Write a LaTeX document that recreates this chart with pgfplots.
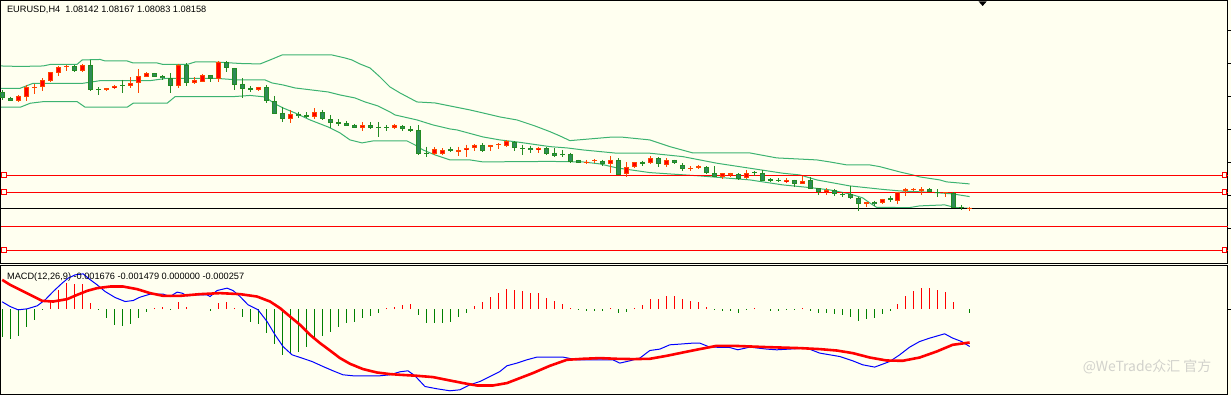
\documentclass[border=0pt]{standalone}
\usepackage{pgfplots}
\pgfplotsset{compat=1.18}
\usepackage{pgfplotstable}
\usepackage{fontspec}
\setmainfont{Liberation Sans}
\newfontfamily\cjk{Noto Sans CJK SC}
\definecolor{bg}{HTML}{FFFFF0}
\definecolor{band}{HTML}{3CB371}
\definecolor{upedge}{HTML}{FF4500}
\definecolor{upfill}{HTML}{FF0000}
\definecolor{dnedge}{HTML}{228B22}
\definecolor{dnfill}{HTML}{2E8B57}
\definecolor{hgreen}{HTML}{008000}
\definecolor{wm}{HTML}{D2D2CC}

% bearish candles (green): i = bar index, o h l c read in screen pixels
\pgfplotstableread{
i o h l c
0 91.7 90.0 100.0 98.3
1 98.3 96.7 101.0 100.7
9 66.0 65.5 71.7 70.7
11 65.0 60.0 90.7 89.7
12 89.0 87.3 95.0 90.3
15 85.7 80.0 92.7 86.3
19 73.3 73.0 77.0 76.7
20 76.0 75.0 80.0 78.3
21 78.3 73.3 93.3 85.7
23 65.0 63.3 86.0 83.3
26 75.0 75.0 81.7 79.0
28 61.7 61.0 71.7 68.3
29 68.3 68.0 90.0 85.0
30 84.0 78.3 97.7 89.3
31 88.3 86.0 92.3 89.7
33 87.0 85.0 103.3 101.0
34 101.0 96.0 114.0 113.7
35 112.7 106.7 121.7 119.3
37 113.7 111.7 117.7 116.0
38 115.0 112.3 118.3 116.7
40 112.3 110.0 120.0 119.3
41 119.3 115.0 127.7 122.7
42 122.3 119.3 126.0 123.7
43 123.3 121.0 126.3 125.7
44 124.7 124.0 128.0 127.7
46 125.0 122.3 129.3 127.7
47 126.7 122.3 136.7 127.7
48 127.7 125.0 131.0 128.3
50 126.0 125.5 130.7 129.0
51 129.0 126.0 131.7 130.7
52 130.0 125.0 155.0 154.3
53 153.3 146.7 157.3 154.0
56 149.3 146.7 152.0 151.3
60 144.7 143.3 152.0 150.7
64 141.7 141.3 150.7 148.3
65 148.3 144.7 155.0 149.0
66 147.7 145.7 152.7 150.0
68 147.7 147.3 155.0 154.0
69 152.7 147.7 156.7 155.7
70 154.0 150.0 157.3 155.0
71 154.3 152.7 163.3 161.7
72 160.0 159.7 163.3 162.7
75 160.7 159.7 166.3 164.0
77 160.0 158.3 175.5 175.0
80 161.7 160.7 165.7 163.7
82 158.3 157.3 167.3 164.3
84 160.0 159.7 163.7 163.3
85 165.0 163.3 171.0 169.0
88 166.7 166.3 174.0 173.3
89 173.3 166.0 177.0 176.7
92 174.0 173.3 180.0 179.3
94 171.7 171.0 176.0 173.3
95 172.7 170.0 181.0 180.7
96 179.3 178.3 182.3 181.0
97 180.0 178.3 182.3 181.0
99 180.0 179.7 187.3 184.0
101 180.0 177.3 189.3 189.0
102 188.3 188.0 195.0 191.7
104 190.0 189.0 195.7 194.0
105 194.0 192.3 196.7 195.0
106 194.3 186.0 199.3 198.3
107 198.3 197.3 210.7 204.3
109 201.7 200.7 205.7 204.0
111 198.3 195.7 201.7 200.0
116 189.3 188.3 192.3 191.7
117 192.3 189.3 196.7 193.3
119 192.7 192.3 208.0 207.7
120 206.7 205.0 210.0 207.7
}\candown

% bullish candles (red)
\pgfplotstableread{
i o h l c
2 100.7 95.0 101.7 96.0
3 96.7 85.0 100.7 86.7
4 87.7 84.0 94.3 86.7
5 87.3 78.3 90.7 80.0
6 80.7 72.0 81.7 72.3
7 72.7 66.0 75.7 67.3
8 67.3 64.7 70.7 65.7
10 70.7 64.0 71.7 65.0
13 90.3 88.0 91.0 88.3
14 88.3 85.0 89.3 86.0
16 86.0 77.3 88.3 83.3
17 83.3 69.0 92.7 76.0
18 76.7 72.3 77.0 73.3
22 85.7 64.0 88.3 65.0
24 83.3 77.3 84.0 80.0
25 81.7 74.0 82.3 75.0
27 79.0 61.0 81.7 61.7
32 90.3 86.7 90.7 87.0
36 119.0 110.0 122.7 114.3
39 116.7 108.3 119.3 112.3
45 127.7 122.3 131.0 125.0
49 128.3 124.0 129.3 125.0
54 154.3 147.3 155.0 149.0
55 154.0 148.3 155.0 150.0
57 152.0 146.7 155.7 150.0
58 150.0 144.7 156.7 147.7
59 148.3 144.3 150.7 144.7
61 146.7 144.7 151.3 145.3
62 145.3 143.3 149.3 144.0
63 146.0 140.0 147.3 140.7
67 150.0 146.7 152.7 147.7
73 162.7 160.0 164.0 161.7
74 161.3 159.0 162.7 160.3
76 164.3 156.0 173.3 160.0
78 174.0 162.3 176.7 167.3
79 167.3 162.0 167.7 162.3
81 163.3 156.0 164.0 158.3
83 165.0 158.3 166.7 160.0
86 169.0 166.3 171.0 168.3
87 167.7 165.0 169.0 166.0
90 176.7 173.0 179.3 173.3
91 175.0 172.7 176.7 173.3
93 178.3 170.0 179.3 173.3
98 182.3 178.3 182.7 180.0
100 184.0 176.0 184.3 181.0
103 192.3 188.3 195.0 190.0
108 204.3 201.7 206.7 202.3
110 203.3 198.7 203.7 199.0
112 200.7 191.7 204.0 192.3
113 190.7 187.7 195.7 189.0
114 190.0 188.3 190.7 188.7
115 190.7 187.3 195.0 189.3
118 193.3 192.3 197.3 192.7
121 208.3 206.7 210.7 208.0
}\canup

% MACD histogram, end of each bar (zero line at 309.3): positive (red)
\pgfplotstableread{
i v
6 301.7
7 290.0
8 283.3
9 284.0
10 284.0
11 302.7
19 308.3
20 306.7
22 301.7
23 306.7
27 303.3
28 301.7
29 308.3
48 308.3
49 306.7
50 305.0
51 304.0
59 306.0
60 301.7
61 296.7
62 292.7
63 289.0
64 290.0
65 291.0
66 293.0
67 293.3
68 297.7
69 301.0
70 304.0
71 307.7
76 308.3
79 307.7
80 305.0
81 299.3
82 299.3
83 295.7
84 295.7
85 299.3
86 301.0
87 302.3
88 307.3
94 308.3
100 308.5
112 304.0
113 296.0
114 291.0
115 287.7
116 287.7
117 290.0
118 292.3
119 302.3
}\histup

% negative (green)
\pgfplotstableread{
i v
0 337.3
1 339.3
2 336.0
3 326.7
4 320.0
5 310.5
12 310.5
13 318.3
14 325.0
15 325.7
16 324.3
17 318.3
18 311.7
21 310.3
26 311.0
30 316.7
31 322.3
32 324.3
33 333.3
34 344.3
35 355.0
36 354.3
37 351.7
38 347.3
39 340.0
40 335.7
41 331.7
42 326.7
43 323.3
44 321.7
45 318.3
46 315.7
47 312.7
52 315.0
53 322.7
54 322.7
55 322.7
56 321.7
57 317.3
58 312.7
72 310.3
73 311.0
74 311.0
75 311.0
77 312.7
78 311.7
89 310.3
90 311.0
91 311.0
92 312.7
93 310.3
96 310.7
97 311.0
98 310.3
99 310.3
101 310.7
102 313.3
103 313.3
104 314.0
105 315.0
106 316.7
107 320.7
108 319.3
109 318.3
110 314.3
111 311.0
121 313.3
}\histdn

\begin{document}
\begin{tikzpicture}
\begin{axis}[
  width=1231bp, height=395bp, scale only axis,
  xmin=0, xmax=1231, ymin=0, ymax=395, y dir=reverse,
  hide axis, clip=false,
]
% background and frames
\fill[bg] (axis cs:0,0) rectangle (axis cs:1231,395);
\draw[black, line width=1bp] (axis cs:0.5,0.5) rectangle (axis cs:1228,264);
\draw[black, line width=1bp] (axis cs:0.5,266) rectangle (axis cs:1228,394.5);
\draw[black, line width=1bp] (axis cs:1228,30.7) -- (axis cs:1231,30.7);
\draw[black, line width=1bp] (axis cs:1228,63.7) -- (axis cs:1231,63.7);
\draw[black, line width=1bp] (axis cs:1228,96.7) -- (axis cs:1231,96.7);
\draw[black, line width=1bp] (axis cs:1228,129.7) -- (axis cs:1231,129.7);
\draw[black, line width=1bp] (axis cs:1228,162.7) -- (axis cs:1231,162.7);
\draw[black, line width=1bp] (axis cs:1228,195.3) -- (axis cs:1231,195.3);
\draw[black, line width=1bp] (axis cs:1228,228.3) -- (axis cs:1231,228.3);
\draw[black, line width=1bp] (axis cs:1228,309.3) -- (axis cs:1231,309.3);
\fill[black] (axis cs:979,1.5) -- (axis cs:987,1.5) -- (axis cs:983,6) -- cycle;

% Bollinger bands
\addplot[band, line width=1bp, forget plot] coordinates {
(1,66) (20,66.5) (43,66) (50,64.5) (77,64.3) (82,60) (100,59.5) (105,61) (127,61) (133,63) (157,63) (163,64.5) (187,64.5) (195,62) (215,62) (240,63.5) (260,64) (270,60) (282,55) (312,55) (332,55) (345,58) (352,60) (360,64) (370,68) (380,77) (390,87) (400,93) (417,102) (435,103) (450,106) (470,110) (483,113) (500,117) (517,120) (535,126) (550,131.7) (560,136) (570,140.7) (590,139) (610,137.3) (623,137.3) (650,140) (670,146.7) (693,153) (750,153) (777,158) (817,160) (830,162) (847,165) (870,165) (880,166.7) (900,172) (913,175) (920,177) (940,180) (947,182) (970,184)};
\addplot[band, line width=1bp, forget plot] coordinates {
(1,88.3) (20,88.3) (33,83.3) (83,83.3) (100,80.7) (150,80.7) (167,78.3) (215,78.3) (238,80) (265,80) (272,83) (283,85) (295,88) (328,92) (340,95) (355,98) (365,102) (378,106) (390,112) (395,115) (417,120) (433,125) (450,129) (457,130) (483,137) (500,140) (517,142) (550,146.7) (567,148) (583,150) (617,153.3) (650,153.3) (683,156.7) (717,163.3) (750,168.3) (783,173.3) (800,175) (817,180) (850,186) (883,189.5) (900,191) (933,192.5) (953,194) (970,196.7)};
\addplot[band, line width=1bp, forget plot] coordinates {
(1,107.3) (20,107.3) (30,103.3) (43,101.7) (77,101.7) (85,107.3) (127,107.3) (133,103.3) (167,103.3) (175,96.7) (233,96.7) (250,95.5) (265,97) (275,104) (283,108) (295,113) (310,120) (328,127) (340,133) (350,140) (362,143) (373,141) (407,141) (415,145) (423,150) (435,155) (450,160) (470,160) (483,162) (550,161.5) (583,162) (600,164) (617,168) (650,172.7) (700,176) (750,180) (783,185) (813,188) (830,190) (850,194) (863,198) (870,203) (877,207.5) (910,207.7) (920,206) (945,205) (955,207.5) (970,208.5)};

% horizontal lines
\addplot[red, line width=1bp, forget plot] coordinates {(1,175.3) (1228,175.3)};
\addplot[red, line width=1bp, forget plot] coordinates {(1,192.3) (1228,192.3)};
\addplot[red, line width=1bp, forget plot] coordinates {(1,226.3) (1228,226.3)};
\addplot[red, line width=1bp, forget plot] coordinates {(1,250.3) (1228,250.3)};
\addplot[black, line width=1bp, forget plot] coordinates {(1,208.3) (1228,208.3)};
\addplot[only marks, mark=square*, mark size=2.3bp, mark options={draw=red, fill=bg, line width=0.9bp}, forget plot]
  coordinates {(4,175.3) (4,192.3) (4,250.3) (1225,175.3) (1225,192.3) (1225,250.3)};

% candles: wicks
\addplot[draw=dnedge, line width=1bp, forget plot, quiver={u=0, v={\thisrow{l}-\thisrow{h}}}]
  table[x expr=2.3+8*\thisrow{i}, y=h] {\candown};
\addplot[draw=upedge, line width=1bp, forget plot, quiver={u=0, v={\thisrow{l}-\thisrow{h}}}]
  table[x expr=2.3+8*\thisrow{i}, y=h] {\canup};
% candles: bodies (edge)
\addplot[draw=dnedge, line width=5bp, forget plot, quiver={u=0, v={2*max(abs(\thisrow{o}-\thisrow{c})/2,0.5)}}]
  table[x expr=2.3+8*\thisrow{i}, y expr={(\thisrow{o}+\thisrow{c})/2-max(abs(\thisrow{o}-\thisrow{c})/2,0.5)}] {\candown};
\addplot[draw=upedge, line width=5bp, forget plot, quiver={u=0, v={2*max(abs(\thisrow{o}-\thisrow{c})/2,0.5)}}]
  table[x expr=2.3+8*\thisrow{i}, y expr={(\thisrow{o}+\thisrow{c})/2-max(abs(\thisrow{o}-\thisrow{c})/2,0.5)}] {\canup};
% candles: bodies (fill)
\addplot[draw=dnfill, line width=3bp, forget plot, quiver={u=0, v={2*max(abs(\thisrow{o}-\thisrow{c})/2-1,0)}}]
  table[x expr=2.3+8*\thisrow{i}, y expr={(\thisrow{o}+\thisrow{c})/2-max(abs(\thisrow{o}-\thisrow{c})/2-1,0)}] {\candown};
\addplot[draw=upfill, line width=3bp, forget plot, quiver={u=0, v={2*max(abs(\thisrow{o}-\thisrow{c})/2-1,0)}}]
  table[x expr=2.3+8*\thisrow{i}, y expr={(\thisrow{o}+\thisrow{c})/2-max(abs(\thisrow{o}-\thisrow{c})/2-1,0)}] {\canup};

% MACD histogram
\addplot[draw=red, line width=1bp, forget plot, quiver={u=0, v={\thisrow{v}-309.3}}]
  table[x expr=2.3+8*\thisrow{i}, y expr=309.3] {\histup};
\addplot[draw=hgreen, line width=1bp, forget plot, quiver={u=0, v={\thisrow{v}-309.3}}]
  table[x expr=2.3+8*\thisrow{i}, y expr=309.3] {\histdn};

% MACD main (blue) and signal (red)
\addplot[blue, line width=1bp, forget plot] coordinates {
(2,302) (10,306.7) (18,310) (27,309) (37,306) (45,300) (53,291.7) (62,283.3) (68,278.3) (75,275) (83,274) (88,278.3) (97,285) (105,291.7) (115,297.7) (125,301.7) (133,300.7) (140,297.3) (150,294.3) (163,294.3) (170,296.7) (177,292.3) (182,293.3) (187,296) (197,295) (207,295) (210,296.7) (217,290.7) (227,288.3) (233,290.7) (240,296.7) (248,305) (258,310) (267,321.7) (275,335) (283,346.7) (292,355) (302,358.3) (312,361.7) (323,366.7) (333,371) (343,375) (353,376) (380,376) (390,375) (400,372) (408,371) (415,376) (425,386.7) (437,389) (450,391) (460,390) (470,385) (480,381.7) (490,376.7) (500,371.7) (507,366) (517,363.3) (527,360) (537,357.3) (563,357.3) (577,360) (603,360) (613,360) (620,363.3) (630,361) (640,358.3) (650,350.7) (660,349.3) (670,345) (680,344.3) (693,343.3) (700,343.3) (710,347.3) (730,347.7) (738,350) (750,347.3) (767,349.3) (777,350) (807,348.3) (820,353.3) (840,356.7) (853,361) (863,365) (875,367.3) (890,361.7) (900,355) (910,347.3) (920,341.7) (930,338.3) (945,334) (953,338.3) (962,341.7) (970,346.7)};
\addplot[red, line width=2.6bp, forget plot] coordinates {
(2,280) (10,285) (20,290) (30,295) (42,301) (53,301.7) (67,299.3) (77,295) (87,291) (97,288.3) (110,286.7) (123,286.7) (137,289.3) (150,293.3) (163,296) (180,296) (200,294.3) (220,293.3) (240,294.3) (257,296.7) (270,301.7) (280,308.3) (290,316.7) (300,325) (310,335) (320,343.3) (330,350.7) (340,358.3) (350,364) (363,369.3) (377,372.7) (390,374.3) (400,375) (417,376) (433,377.3) (450,380.7) (467,384) (477,385.7) (493,385.7) (507,383.3) (520,378.3) (533,373.3) (550,366) (567,360) (583,359) (600,358.3) (617,359) (633,359.3) (650,359) (667,356) (683,352.7) (700,349.3) (717,346) (733,346) (767,347.3) (800,348.3) (820,349.3) (837,350.7) (853,353.3) (870,357.7) (887,360.7) (903,361) (920,357.7) (937,351.7) (953,345) (970,342.7)};

% texts
\node[anchor=base west, inner sep=0pt, font=\fontsize{9.25}{10}\selectfont]
  at (axis cs:6.7,12.3) {EURUSD,H4\ \ 1.08142 1.08167 1.08083 1.08158};
\node[anchor=base west, inner sep=0pt, font=\fontsize{9.25}{10}\selectfont]
  at (axis cs:6.7,279.3) {MACD(12,26,9) -0.001676 -0.001479 0.000000 -0.000257};
\node[anchor=base west, inner sep=0pt, text=wm, font=\cjk\fontsize{14}{16}\selectfont]
  at (axis cs:1083,372) {@WeTrade众汇 官方};
\end{axis}
\end{tikzpicture}
\end{document}
